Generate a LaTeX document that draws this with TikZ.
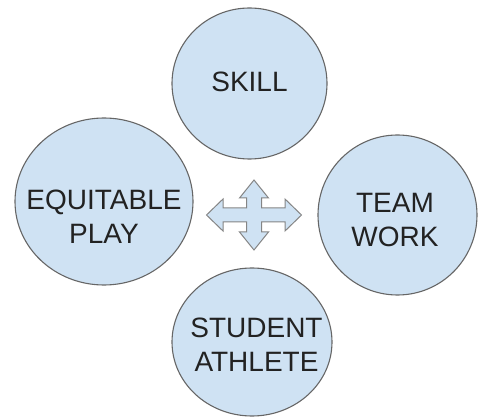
\documentclass[tikz,border=0pt]{standalone}
\usepackage{fontspec}
\setmainfont{Liberation Sans}
\usepackage{tikz}
\usetikzlibrary{shapes.geometric}
\definecolor{bubbleblue}{RGB}{207,226,243}
\definecolor{rimgray}{RGB}{102,102,102}
\definecolor{textdark}{RGB}{34,34,34}

\begin{document}
\begin{tikzpicture}[
    x=1pt, y=1pt,
    bubble/.style={ellipse, draw=rimgray, fill=bubbleblue, line width=1.1pt, inner sep=0pt},
    word/.style={align=center, text=textdark, font=\fontsize{28}{34}\selectfont, inner sep=0pt},
    cross/.style={draw=rimgray!80, fill=bubbleblue, line width=1pt, line join=miter}
]
    \useasboundingbox (0,0) rectangle (485,418);

    % Four bubbles round the middle
    \node[bubble, minimum width=155, minimum height=151] (skill) at (249.5,334.5) {};
    \node[bubble, minimum width=178, minimum height=167] (equitable) at (104,216.5) {};
    \node[bubble, minimum width=159, minimum height=160] (teamwork) at (397.5,203) {};
    \node[bubble, minimum width=160, minimum height=148] (student) at (252,76) {};

    % Labels
    \node[word] (skilltxt) at (249.5,336) {SKILL};
    \node[word] (equitabletxt) at (104,201.5) {EQUITABLE\\PLAY};
    \node[word] (teamworktxt) at (395,198) {TEAM\\WORK};
    \node[word] (studenttxt) at (256.5,73.5) {STUDENT\\ATHLETE};

    % Four-way arrow in the middle
    \coordinate (hub) at (254,203);
    \draw[cross, shift={(hub)}]
        (-47.5,0) -- (-31,16) -- (-31,7) -- (-7.5,7) -- (-7.5,17) -- (-14.5,17)
        -- (0,35) -- (14.5,17) -- (7.5,17) -- (7.5,7) -- (31,7) -- (31,16)
        -- (47.5,0) -- (31,-16) -- (31,-7) -- (7.5,-7) -- (7.5,-17) -- (14.5,-17)
        -- (0,-35) -- (-14.5,-17) -- (-7.5,-17) -- (-7.5,-7) -- (-31,-7) -- (-31,-16)
        -- cycle;
\end{tikzpicture}
\end{document}
